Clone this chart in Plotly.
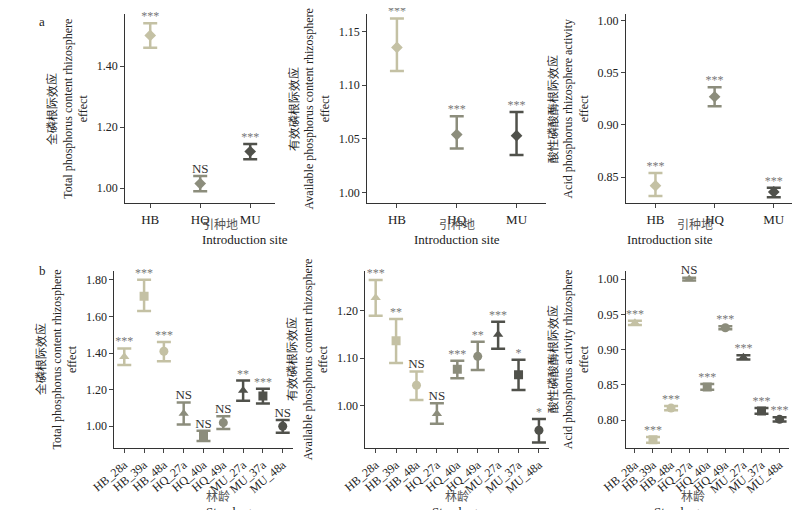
import plotly.graph_objects as go

# top row: introduction site
sites = ['HB', 'HQ', 'MU']
site_colors = ['#c4c1a4', '#8c8d7c', '#50514b']

tp_site = [1.50, 1.015, 1.12]
tp_site_lo = [1.46, 0.99, 1.095]
tp_site_hi = [1.54, 1.04, 1.145]
tp_site_sig = ['***', 'NS', '***']

ap_site = [1.135, 1.054, 1.053]
ap_site_lo = [1.113, 1.041, 1.035]
ap_site_hi = [1.162, 1.071, 1.075]
ap_site_sig = ['***', '***', '***']

acp_site = [0.842, 0.927, 0.836]
acp_site_lo = [0.832, 0.918, 0.831]
acp_site_hi = [0.854, 0.936, 0.840]
acp_site_sig = ['***', '***', '***']

# bottom row: stand age
ages = ['HB_28a', 'HB_39a', 'HB_48a', 'HQ_27a', 'HQ_40a', 'HQ_49a', 'MU_27a', 'MU_37a', 'MU_48a']
age_colors = ['#c4c1a4'] * 3 + ['#8c8d7c'] * 3 + ['#50514b'] * 3
age_symbols = ['triangle-up', 'square', 'circle'] * 3

tp_age = [1.38, 1.71, 1.41, 1.07, 0.945, 1.02, 1.195, 1.165, 1.00]
tp_age_lo = [1.335, 1.63, 1.355, 1.01, 0.92, 0.985, 1.14, 1.125, 0.965]
tp_age_hi = [1.425, 1.80, 1.46, 1.13, 0.975, 1.055, 1.25, 1.205, 1.035]
tp_age_sig = ['***', '***', '***', 'NS', 'NS', 'NS', '**', '***', 'NS']

ap_age = [1.228, 1.137, 1.043, 0.983, 1.077, 1.104, 1.15, 1.065, 0.948]
ap_age_lo = [1.19, 1.09, 1.012, 0.962, 1.058, 1.075, 1.12, 1.033, 0.922]
ap_age_hi = [1.265, 1.183, 1.072, 1.005, 1.095, 1.135, 1.177, 1.097, 0.972]
ap_age_sig = ['***', '**', 'NS', 'NS', '***', '**', '***', '*', '*']

acp_age = [0.938, 0.772, 0.817, 1.0, 0.847, 0.931, 0.889, 0.813, 0.801]
acp_age_lo = [0.935, 0.768, 0.814, 0.998, 0.843, 0.929, 0.886, 0.809, 0.798]
acp_age_hi = [0.941, 0.776, 0.820, 1.002, 0.851, 0.933, 0.892, 0.817, 0.804]
acp_age_sig = ['***', '***', '***', 'NS', '***', '***', '***', '***', '***']

SERIF = 'Liberation Serif'
CJK = 'Noto Sans CJK SC'

fig = go.Figure()

panels = [
    (sites, tp_site, tp_site_lo, tp_site_hi, tp_site_sig, site_colors, ['diamond'] * 3,
     [0.119, 0.3125], [0.618, 0.99], [0.95, 1.57], [1.0, 1.2, 1.4],
     '全磷根际效应<br>Total phosphorus content rhizosphere', '引种地', 'Introduction site'),
    (sites, ap_site, ap_site_lo, ap_site_hi, ap_site_sig, site_colors, ['diamond'] * 3,
     [0.431, 0.6625], [0.618, 0.99], [0.99, 1.166], [1.0, 1.05, 1.1, 1.15],
     '有效磷根际效应<br>Available phosphorus content rhizosphere', '引种地', 'Introduction site'),
    (sites, acp_site, acp_site_lo, acp_site_hi, acp_site_sig, site_colors, ['diamond'] * 3,
     [0.765, 0.994], [0.618, 0.99], [0.825, 1.006], [0.85, 0.9, 0.95, 1.0],
     '酸性磷酸酶根际效应<br>Acid phosphorus rhizosphere activity', '引种地', 'Introduction site'),
    (ages, tp_age, tp_age_lo, tp_age_hi, tp_age_sig, age_colors, age_symbols,
     [0.105, 0.335], [0.137, 0.486], [0.88, 1.85], [1.0, 1.2, 1.4, 1.6, 1.8],
     '全磷根际效应<br>Total phosphorus content rhizosphere', '林龄', 'Stand age'),
    (ages, ap_age, ap_age_lo, ap_age_hi, ap_age_sig, age_colors, age_symbols,
     [0.429, 0.666], [0.137, 0.486], [0.91, 1.285], [1.0, 1.1, 1.2],
     '有效磷根际效应<br>Available phosphorus content rhizosphere', '林龄', 'Stand age'),
    (ages, acp_age, acp_age_lo, acp_age_hi, acp_age_sig, age_colors, age_symbols,
     [0.765, 0.975], [0.137, 0.486], [0.76, 1.012], [0.8, 0.85, 0.9, 0.95, 1.0],
     '酸性磷酸酶根际效应<br>Acid phosphorus activity rhizosphere', '林龄', 'Stand age'),
]

for i, (cats, vals, lo, hi, sig, cols, syms, xd, yd, yr, tv, ytitle, xcn, xen) in enumerate(panels):
    n = i + 1
    xa = 'x' if n == 1 else f'x{n}'
    ya = 'y' if n == 1 else f'y{n}'
    for c, v, l, h, s, col, sym in zip(cats, vals, lo, hi, sig, cols, syms):
        fig.add_trace(go.Scatter(
            x=[c], y=[v], mode='markers', xaxis=xa, yaxis=ya, showlegend=False,
            marker=dict(color=col, size=9, symbol=sym),
            error_y=dict(type='data', symmetric=False, array=[h - v], arrayminus=[v - l],
                         color=col, thickness=2.5, width=7)
        ))
        fig.add_trace(go.Scatter(
            x=[c], y=[h], mode='text', text=[s], textposition='top center',
            xaxis=xa, yaxis=ya, showlegend=False, cliponaxis=False,
            textfont=dict(family=SERIF, size=13 if s == 'NS' else 12,
                          color='#333' if s == 'NS' else '#777777')
        ))
    # dashed reference line at 1.0
    fig.add_trace(go.Scatter(
        x=[-0.5, len(cats) - 0.5], y=[1.0, 1.0], mode='lines', xaxis=xa, yaxis=ya,
        showlegend=False, hoverinfo='skip',
        line=dict(color='#555', width=1, dash='dash')
    ))
    bottom = len(cats) > 3
    fig.update_layout(**{
        ('xaxis' if n == 1 else f'xaxis{n}'): dict(
            domain=xd, anchor=ya, type='category', categoryorder='array', categoryarray=cats,
            range=[-0.5, len(cats) - 0.5], showline=True, linecolor='#333', ticks='outside',
            ticklen=4, tickangle=-40 if bottom else 0,
            tickfont=dict(family=SERIF, size=12 if bottom else 13, color='#222'),
        ),
        ('yaxis' if n == 1 else f'yaxis{n}'): dict(
            domain=yd, anchor=xa, range=yr, tickvals=tv, tickformat='.2f',
            showline=True, linecolor='#333', ticks='outside', ticklen=4, showgrid=False,
            zeroline=False, tickfont=dict(family=SERIF, size=12, color='#222'),
            title=dict(text=ytitle + '<br>effect', font=dict(family=SERIF, size=12, color='#222'),
                       standoff=6)
        ),
    })
    # x titles as two-line annotations below the axis
    xc = (xd[0] + xd[1]) / 2
    y_cn = 1 - (215 if not bottom else 487) / 510
    fig.add_annotation(text=xcn, x=xc, y=y_cn, xref='paper', yref='paper', showarrow=False,
                       yanchor='middle', font=dict(family=CJK, size=12, color='#555'))
    fig.add_annotation(text=xen, x=xc, y=y_cn - 16 / 510, xref='paper', yref='paper',
                       showarrow=False, yanchor='middle',
                       font=dict(family=SERIF, size=13, color='#222'))

fig.add_annotation(text='a', x=0.005, y=0.995, xref='paper', yref='paper', showarrow=False,
                   xanchor='left', yanchor='top', font=dict(family=SERIF, size=13))
fig.add_annotation(text='b', x=0.005, y=0.505, xref='paper', yref='paper', showarrow=False,
                   xanchor='left', yanchor='top', font=dict(family=SERIF, size=13))

fig.update_layout(
    width=800, height=510, margin=dict(l=0, r=0, t=0, b=0),
    plot_bgcolor='white', paper_bgcolor='white',
    font=dict(family=SERIF + ', ' + CJK, color='#222'),
)

fig.write_html('out.html')
